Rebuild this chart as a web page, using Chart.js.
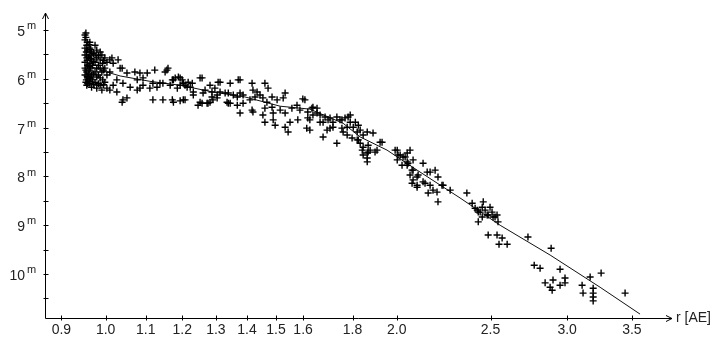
<!DOCTYPE html>
<html>
<head>
<meta charset="utf-8">
<script src="https://cdn.jsdelivr.net/npm/chart.js@4/dist/chart.umd.min.js"></script>
<style>
  html, body { margin: 0; padding: 0; background: #fff; }
  #wrap { width: 717px; height: 340px; }
</style>
</head>
<body>
<div id="wrap"><canvas id="lightcurve" width="717" height="340"></canvas></div>
<script>
"use strict";

// axis ticks
var rTicks = [0.9, 1.0, 1.1, 1.2, 1.3, 1.4, 1.5, 1.6, 1.8, 2.0, 2.5, 3.0, 3.5];
var rTickLabels = ["0.9", "1.0", "1.1", "1.2", "1.3", "1.4", "1.5", "1.6", "1.8", "2.0", "2.5", "3.0", "3.5"];
var magTicks = [5, 6, 7, 8, 9, 10];
var magMinorTicks = [5.5, 6.5, 7.5, 8.5, 9.5, 10.5];

// observations near perihelion (r < 1.03 AE)
var groupAR = [0.952,0.954,0.952,0.956,0.952,0.958,0.952,0.956,0.952,0.958,
	0.952,0.956,0.952,0.958,0.954,0.956,0.963,0.963,0.967,0.963,
	0.967,0.963,0.969,0.963,0.967,0.963,0.969,0.963,0.967,0.975,
	0.979,0.975,0.979,0.975,0.979,0.975,0.979,0.975,0.979,0.987,
	0.991,0.987,0.993,0.987,0.991,0.987,0.993,0.987,0.991,0.998,
	1.003,0.998,1.003,0.998,1.003,1.010,1.015,1.018,1.010,1.010,
	1.027,1.018];
var groupAMag = [5.10,5.06,5.20,5.31,5.37,5.41,5.51,5.57,5.66,5.72,
	5.78,5.86,5.92,5.98,6.07,6.13,5.25,5.37,5.45,5.51,
	5.61,5.68,5.72,5.82,5.92,5.98,6.02,6.09,6.17,5.31,
	5.41,5.51,5.57,5.66,5.78,5.86,5.96,6.07,6.19,5.45,
	5.51,5.61,5.68,5.78,5.86,5.98,6.02,6.13,6.23,5.57,
	5.66,5.78,5.92,6.07,6.19,5.61,5.57,5.68,5.86,6.23,
	6.27,6.13];

// the dense core of the perihelion blob
var coreR = [0.954,0.957,0.955,0.957,0.954,0.957,0.955,0.958,0.961,0.960,
	0.961,0.960,0.961,0.965,0.965,0.965,0.965,0.971,0.971,0.971,
	0.972,0.983,0.983,0.983,0.983,0.995,0.995,0.995];
var coreMag = [5.15,5.25,5.45,5.62,5.82,5.95,6.02,6.10,5.30,5.55,
	5.75,5.90,6.05,5.40,5.58,5.78,6.00,5.48,5.65,5.90,
	6.12,5.52,5.72,5.92,6.10,5.62,5.82,6.12];

// 1.03 - 1.5 AE
var groupBR = [1.030,1.035,1.040,1.052,1.072,1.085,1.078,1.093,1.104,1.124,
	1.157,1.152,1.138,1.175,1.194,1.203,1.229,1.252,1.282,1.313,
	1.345,1.371,1.040,1.052,1.042,1.119,1.146,1.175,1.194,1.203,
	1.252,1.273,1.282,1.291,1.335,1.345,1.027,1.042,1.060,1.078,
	1.085,1.093,1.111,1.119,1.130,1.146,1.166,1.186,1.194,1.214,
	1.232,1.261,1.288,1.304,1.329,1.368,1.377,1.160,1.172,1.180,
	1.189,1.200,1.208,1.217,1.223,1.232,1.258,1.267,1.297,1.307,
	1.313,1.288,1.304,1.276,1.258,1.246,1.208,1.172,1.377,1.417,
	1.461,1.472,1.339,1.355,1.387,1.339,1.368,1.387,1.410,1.420,
	1.434,1.427,1.444,1.454,1.468,1.486,1.461,1.454,1.461,1.486,
	1.490,1.490,1.497,1.377,1.417,1.420];
var groupBMag = [5.61,5.78,5.78,5.88,5.86,5.88,6.02,5.98,5.88,5.82,
	5.82,5.86,6.09,6.02,5.98,6.09,6.09,5.98,6.13,6.07,
	6.09,6.02,6.48,6.39,6.43,6.43,6.43,6.48,6.45,6.43,
	6.48,6.50,6.48,6.43,6.48,6.50,6.02,6.09,6.17,6.23,
	6.19,6.13,6.19,6.09,6.17,6.09,6.13,6.19,6.13,6.17,
	6.27,6.29,6.27,6.33,6.29,6.37,6.29,5.78,6.02,5.98,
	5.96,6.02,6.13,6.07,6.17,6.33,5.98,6.23,6.19,6.07,
	6.27,6.37,6.39,6.50,6.50,6.54,6.43,6.43,6.02,6.09,
	6.09,6.19,6.29,6.33,6.33,6.50,6.54,6.50,6.43,6.23,
	6.27,6.37,6.33,6.39,6.48,6.37,6.60,6.74,6.89,6.58,
	6.70,6.84,6.95,6.70,6.64,6.68];

// 1.5 - 1.95 AE
var groupCR = [1.515,1.533,1.558,1.577,1.588,1.607,1.618,1.634,1.618,1.551,
	1.533,1.544,1.580,1.504,1.526,1.533,1.599,1.638,1.654,1.626,
	1.614,1.626,1.666,1.686,1.706,1.718,1.734,1.747,1.768,1.781,
	1.790,1.777,1.755,1.718,1.694,1.678,1.734,1.803,1.820,1.833,
	1.846,1.864,1.890,1.922,1.820,1.833,1.846,1.864,1.877,1.864,
	1.899,1.654,1.638,1.666,1.678,1.698,1.755,1.790,1.812,1.825,
	1.706,1.760,1.777,1.798,1.825,1.868,1.868,1.842,1.846,1.908,
	1.931,1.864];
var groupCMag = [6.64,6.70,6.60,6.54,6.64,6.43,6.68,6.60,6.80,6.89,
	6.99,7.09,6.84,6.43,6.39,6.29,6.41,6.58,6.70,6.84,
	7.01,7.05,6.89,6.78,6.80,6.89,6.78,6.84,6.80,6.78,
	6.89,6.99,7.01,6.99,7.05,7.19,7.32,6.99,7.09,7.05,
	7.15,7.09,7.11,7.30,7.25,7.32,7.40,7.52,7.46,7.62,
	7.50,6.60,6.74,6.74,6.89,6.84,6.84,6.74,6.89,6.95,
	7.01,7.09,7.15,7.21,7.25,7.36,7.50,7.46,7.56,7.46,
	7.30,7.70];

// 2.0 - 2.3 AE
var groupDR = [2.002,2.016,2.030,2.050,2.064,2.079,2.054,2.129,2.079,2.104,
	2.165,2.191,1.992,2.006,2.002,2.025,2.050,2.074,2.064,2.099,
	2.074,2.099,2.150,2.206,2.139,2.165,2.180,2.201,2.155,2.206,
	2.233,2.271,2.040,2.050,2.079,2.099,2.129,2.227];
var groupDMag = [7.46,7.56,7.60,7.52,7.46,7.66,7.73,7.73,7.87,7.97,
	7.91,7.87,7.46,7.56,7.66,7.77,7.77,7.87,7.97,8.01,
	8.14,8.18,7.91,8.01,8.14,8.18,8.28,8.32,8.34,8.52,
	8.18,8.28,7.60,7.70,8.07,8.22,8.11,8.18];

// beyond 2.3 AE
var groupER = [2.363,2.393,2.410,2.428,2.451,2.457,2.468,2.480,2.497,2.509,
	2.515,2.539,2.545,2.428,2.451,2.422,2.439,2.527,2.486,2.486,
	2.539,2.570,2.551,2.601,2.733,2.888,2.774,2.813,2.950,2.847,
	2.881,2.895,2.901,2.985,2.985,2.950,3.109,3.116,3.169,3.253,
	3.192,3.192,3.192,3.192,3.444];
var groupEMag = [8.34,8.55,8.65,8.73,8.63,8.52,8.69,8.79,8.63,8.73,
	8.83,8.79,8.93,8.93,8.83,8.69,8.73,8.83,8.79,9.20,
	9.20,9.26,9.39,9.39,9.24,9.47,9.82,9.88,9.90,10.18,
	10.27,10.33,10.12,10.08,10.18,10.23,10.23,10.39,10.06,9.98,
	10.29,10.39,10.47,10.55,10.39];

// fitted light curve
var modelR = [0.954, 0.987, 1.035, 1.111, 1.194, 1.291, 1.393, 1.515, 1.626,
	1.760, 1.833, 1.954, 2.099, 2.325, 2.558, 2.881, 3.245, 3.569];
var modelMag = [5.70, 5.82, 5.94, 6.05, 6.13, 6.27, 6.37, 6.56, 6.62,
	6.91, 7.19, 7.46, 7.87, 8.44, 9.00, 9.61, 10.27, 10.82];

function toPoints(rs, mags) {
	return rs.map(function (r, i) { return { x: r, y: mags[i] }; });
}

var observations = []
	.concat(toPoints(groupAR, groupAMag))
	.concat(toPoints(coreR, coreMag))
	.concat(toPoints(groupBR, groupBMag))
	.concat(toPoints(groupCR, groupCMag))
	.concat(toPoints(groupDR, groupDMag))
	.concat(toPoints(groupER, groupEMag));

// hand drawn axes with arrows and crossing tick marks
var axesPlugin = {
	id: 'arrowAxes',
	afterDatasetsDraw: function (chart) {
		var ctx = chart.ctx;
		var a = chart.chartArea;
		var xs = chart.scales.x;
		var ys = chart.scales.y;
		var ax = Math.round(a.left) + 0.5;
		var ay = Math.round(a.bottom) + 0.5;

		ctx.save();
		ctx.strokeStyle = '#000';
		ctx.lineWidth = 1;
		ctx.beginPath();
		// y axis + arrow
		ctx.moveTo(ax, ay);
		ctx.lineTo(ax, a.top);
		ctx.moveTo(ax - 3, a.top + 6);
		ctx.lineTo(ax, a.top);
		ctx.lineTo(ax + 3, a.top + 6);
		// x axis + arrow
		ctx.moveTo(ax, ay);
		ctx.lineTo(a.right, ay);
		ctx.moveTo(a.right - 6, ay - 3);
		ctx.lineTo(a.right, ay);
		ctx.lineTo(a.right - 6, ay + 3);

		magTicks.concat(magMinorTicks).forEach(function (m) {
			var py = Math.round(ys.getPixelForValue(m)) + 0.5;
			ctx.moveTo(ax - 2, py);
			ctx.lineTo(ax + 3, py);
		});
		rTicks.forEach(function (r) {
			var px = Math.round(xs.getPixelForValue(r)) + 0.5;
			ctx.moveTo(px, ay - 3);
			ctx.lineTo(px, ay + 2);
		});
		ctx.stroke();

		ctx.fillStyle = '#222';
		ctx.textBaseline = 'middle';
		magTicks.forEach(function (m) {
			var py = ys.getPixelForValue(m);
			ctx.font = '14px "Liberation Sans", Arial, sans-serif';
			ctx.textAlign = 'right';
			ctx.fillText(String(m), 25, py + 2);
			ctx.font = '11px "Liberation Sans", Arial, sans-serif';
			ctx.textAlign = 'left';
			ctx.fillText('m', 27, py - 4);
		});

		ctx.font = '14px "Liberation Sans", Arial, sans-serif';
		ctx.textAlign = 'center';
		rTicks.forEach(function (r, i) {
			ctx.fillText(rTickLabels[i], xs.getPixelForValue(r), ay + 12);
		});

		ctx.textAlign = 'left';
		ctx.fillText('r [AE]', a.right + 4, ay);
		ctx.restore();
	}
};

var chartLight = new Chart($id('lightcurve'), {
	type: 'scatter',
	data: {
		datasets: [
			{
				label: "Beobachtungen",
				data: observations,
				pointStyle: 'cross',
				pointRadius: 3.5,
				borderColor: '#000',
				backgroundColor: '#000',
				borderWidth: 1.4,
				order: 1
			},
			{
				label: "Modell",
				data: toPoints(modelR, modelMag),
				showLine: true,
				borderColor: '#111',
				borderWidth: 1,
				pointRadius: 0,
				fill: false,
				order: 2
			}
		]
	},
	options: {
		responsive: false,
		devicePixelRatio: 1,
		animation: false,
		layout: { padding: { top: 13, right: 45, left: 0, bottom: 0 } },
		plugins: {
			legend: { display: false },
			tooltip: { enabled: false }
		},
		scales: {
			x: {
				type: 'logarithmic',
				min: 0.8655,
				max: 3.851,
				grid: { display: false },
				border: { display: false },
				ticks: { display: false },
				afterFit: function (s) { s.height = 22; }
			},
			y: {
				type: 'linear',
				reverse: true,
				min: 4.65,
				max: 10.9,
				grid: { display: false },
				border: { display: false },
				ticks: { display: false },
				afterFit: function (s) { s.width = 45; }
			}
		}
	},
	plugins: [axesPlugin]
});

function $id(id) { return document.getElementById(id); }
</script>
</body>
</html>
